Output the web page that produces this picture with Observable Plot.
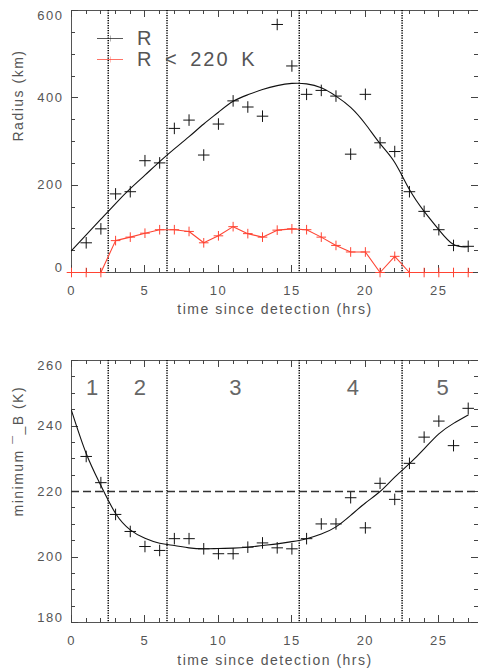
<!DOCTYPE html>
<html>
<head>
<meta charset="utf-8">
<script src="https://cdn.jsdelivr.net/npm/d3@7"></script>
<script src="https://cdn.jsdelivr.net/npm/@observablehq/plot@0.6"></script>
<style>
  html, body { margin: 0; padding: 0; background: #fff; }
  #chart { width: 478px; height: 668px; background: #fff; }
  #chart svg { display: block; }
</style>
</head>
<body>
<div id="chart"></div>
<script>
// ---------------- data ----------------
const hours = [0,1,2,3,4,5,6,7,8,9,10,11,12,13,14,15,16,17,18,19,20,21,22,23,24,25,26,27];

// top panel: measured radius (black crosses), hours 1..27
const radiusHours = [1,2,3,4,5,6,7,8,9,10,11,12,13,14,15,16,17,18,19,20,21,22,23,24,25,26,27];
const radiusValues = [68,100,180,185,256,251,330,349,269,340,393,379,358,568,473,408,417,404,271,408,297,277,185,140,98,62,60];

// top panel: fitted radius curve
const radiusFitHours = [0,1,2,3,4,5,6,7,8,9,10,11,12,13,14,15,16,17,18,19,20,21,22,23,24,25,26,27];
const radiusFitValues = [50,86,122,158,192,223,254,283,311,340,367,392,407,419,428,433,432,423,404,378,340,295,252,190,140,98,64,59];

// top panel: radius of region colder than 220 K (red)
const coldRadiusValues = [0,0,0,73,81,90,98,98,94,68,84,105,89,81,97,100,98,81,62,47,47,0,37,0,0,0,0,0];

// bottom panel: minimum brightness temperature (crosses), hours 1..27
const tbHours = [1,2,3,4,5,6,7,8,9,10,11,12,13,14,15,16,17,18,19,20,21,22,23,24,25,26,27];
const tbValues = [230.7,222.7,213,207.8,203.2,202,205.6,205.6,202.5,201,201,203,204.3,202.8,202.5,205.6,210.1,210.1,218.1,208.9,222.5,217.6,228.6,236.6,241.5,234,245.4];

// bottom panel: fitted curve
const tbFitHours = [0,1,2,3,4,5,6,7,8,9,10,11,12,13,14,15,16,17,18,19,20,21,22,23,24,25,26,27];
const tbFitValues = [244.7,231.6,221.8,213.3,208.3,205.7,204.2,203.5,202.8,202.5,202.6,202.7,203,203.5,204,204.7,205.6,207,209.2,212.7,216.5,220,224.4,228.5,233,237.6,240.8,243.4];

// phase boundaries (hrs), phase labels, threshold
const phaseBounds = [2.5, 6.5, 15.5, 22.5];
const phaseLabels = ["1","2","3","4","5"];
const threshold = [220];

// axis ticks
const xDomain = [0, 27.7];
const xMajor = [0,5,10,15,20,25];
const xMinor = d3.range(0, 28, 1).filter(d => d % 5 !== 0);
const yTopDomain = [0, 600];
const yTopMajor = [0,200,400,600];
const yTopMinor = d3.range(0, 601, 50).filter(d => d % 200 !== 0);
const yBotDomain = [180, 260];
const yBotMajor = [180,200,220,240,260];
const yBotMinor = d3.range(180, 261, 5).filter(d => d % 20 !== 0);

const legendItems = [
  {label: "R", color: "#222"},
  {label: "R < 220 K", color: "#ff4433"}
];

// --------------- helpers ---------------
const TXT = "#555";
const RED = "#ff4433";
const W = 478, ML = 71, MR = 0;

const radiusPts = radiusHours.map((t, i) => ({t, v: radiusValues[i]}));
const radiusFit = radiusFitHours.map((t, i) => ({t, v: radiusFitValues[i]}));
const coldPts = hours.map((t, i) => ({t, v: coldRadiusValues[i]}));
const tbPts = tbHours.map((t, i) => ({t, v: tbValues[i]}));
const tbFit = tbFitHours.map((t, i) => ({t, v: tbFitValues[i]}));

const bounds = [xDomain[0], ...phaseBounds, xDomain[1]];
const phases = phaseLabels.map((label, i) => ({label, t: (bounds[i] + bounds[i+1]) / 2}));

// inward ticks on all four sides, positioned through the scales
function innerTicks(yDom, majX, minX, majY, minY) {
  return (index, scales) => {
    const sx = scales.x, sy = scales.y;
    const left = sx(xDomain[0]), right = sx(xDomain[1]);
    const top = sy(yDom[1]), bottom = sy(yDom[0]);
    const path = [];
    for (const [arr, L] of [[majX, 7], [minX, 4]]) for (const d of arr) {
      const x = Math.round(sx(d)) + 0.5;
      path.push(`M${x},${bottom}v${-L}`, `M${x},${top}v${L}`);
    }
    for (const [arr, L] of [[majY, 7], [minY, 4]]) for (const d of arr) {
      const y = Math.round(sy(d)) + 0.5;
      path.push(`M${left},${y}h${L}`, `M${right},${y}h${-L}`);
    }
    const g = d3.create("svg:g");
    g.append("path").attr("d", path.join(""))
      .attr("stroke", "#444").attr("stroke-width", 1).attr("fill", "none");
    return g.node();
  };
}

function yLabels(majors) {
  const lo = majors[0], hi = majors[majors.length - 1];
  const common = {tickSize: 0, tickPadding: 8, label: null, fill: TXT, fontSize: 13, tickFormat: d => String(d)};
  return [
    Plot.axisY([hi], {...common, dy: 5}),
    Plot.axisY(majors.slice(1, -1), common),
    Plot.axisY([lo], {...common, dy: -5})
  ];
}

function legendMark(items) {
  return (index, scales, values, dims) => {
    const g = d3.create("svg:g").attr("text-anchor", "start");
    items.forEach((it, i) => {
      const y = dims.marginTop + 28 + i * 21;
      const x0 = dims.marginLeft + 26, x1 = dims.marginLeft + 52;
      g.append("line").attr("x1", x0).attr("x2", x1).attr("y1", y + 0.5).attr("y2", y + 0.5)
        .attr("stroke", it.color).attr("stroke-width", 1).attr("opacity", 0.75);
      g.append("line").attr("x1", (x0 + x1) / 2 + 0.5).attr("x2", (x0 + x1) / 2 + 0.5).attr("y1", y - 2.5).attr("y2", y + 3.5)
        .attr("stroke", it.color).attr("stroke-width", 1).attr("opacity", 0.35);
      g.append("text").attr("x", dims.marginLeft + 66).attr("y", y).attr("dy", "0.36em")
        .attr("fill", TXT).attr("font-size", 20).attr("letter-spacing", "2px").attr("word-spacing", "4px")
        .attr("text-anchor", "start")
        .text(it.label);
    });
    return g.node();
  };
}

const baseStyle = {fontFamily: "'Liberation Sans', Arial, sans-serif", fontSize: "13px", color: TXT, background: "#fff", letterSpacing: "1.5px"};

// --------------- top panel ---------------
const topH = 330, topMT = 10, topMB = 58;
const topPlot = Plot.plot({
  width: W, height: topH,
  marginLeft: ML, marginRight: MR, marginTop: topMT, marginBottom: topMB,
  style: baseStyle,
  x: {domain: xDomain},
  y: {domain: yTopDomain},
  marks: [
    Plot.frame({stroke: "#555"}),
    innerTicks(yTopDomain, xMajor, xMinor, yTopMajor, yTopMinor),
    Plot.axisX(xMajor, {tickSize: 0, tickPadding: 13, label: null, fill: TXT, fontSize: 13}),
    ...yLabels(yTopMajor),
    Plot.ruleX(phaseBounds, {x: d => d, stroke: "#000", strokeWidth: 1.5, strokeDasharray: "1.2,1.3"}),
    Plot.line(radiusFit, {x: "t", y: "v", curve: "natural", stroke: "#111", strokeWidth: 1.1}),
    Plot.dot(radiusPts, {x: "t", y: "v", symbol: "plus", r: 3.8, stroke: "#111", strokeWidth: 1}),
    Plot.line(coldPts, {x: "t", y: "v", stroke: RED, strokeWidth: 1.1}),
    Plot.dot(coldPts, {x: "t", y: "v", symbol: "plus", r: 3.2, stroke: RED, strokeWidth: 1}),
    Plot.text(["time since detection (hrs)"], {frameAnchor: "bottom", dy: 37, lineAnchor: "middle", fill: TXT, fontSize: 14}),
    Plot.text(["Radius (km)"], {frameAnchor: "left", dx: -53, rotate: -90, lineAnchor: "middle", fill: TXT, fontSize: 14}),
    legendMark(legendItems)
  ]
});

// --------------- bottom panel ---------------
const botH = 338, botMT = 30, botMB = 46;
const botPlot = Plot.plot({
  width: W, height: botH,
  marginLeft: ML, marginRight: MR, marginTop: botMT, marginBottom: botMB,
  style: baseStyle,
  x: {domain: xDomain},
  y: {domain: yBotDomain},
  marks: [
    Plot.frame({stroke: "#555"}),
    innerTicks(yBotDomain, xMajor, xMinor, yBotMajor, yBotMinor),
    Plot.axisX(xMajor, {tickSize: 0, tickPadding: 13, label: null, fill: TXT, fontSize: 13}),
    ...yLabels(yBotMajor),
    Plot.ruleX(phaseBounds, {x: d => d, stroke: "#000", strokeWidth: 1.5, strokeDasharray: "1.2,1.3"}),
    Plot.ruleY(threshold, {y: d => d, stroke: "#333", strokeWidth: 1.6, strokeDasharray: "8,4"}),
    Plot.line(tbFit, {x: "t", y: "v", curve: "natural", stroke: "#111", strokeWidth: 1.1}),
    Plot.dot(tbPts, {x: "t", y: "v", symbol: "plus", r: 3.8, stroke: "#111", strokeWidth: 1}),
    Plot.text(phases, {x: "t", text: "label", frameAnchor: "top", dy: 27, dx: 3, lineAnchor: "middle", fill: "#666", fontSize: 22, letterSpacing: "0px"}),
    Plot.text(["time since detection (hrs)"], {frameAnchor: "bottom", dy: 38, lineAnchor: "middle", fill: TXT, fontSize: 14}),
    Plot.text(["minimum ¯_B (K)"], {frameAnchor: "left", dx: -53, dy: 25, rotate: -90, lineAnchor: "middle", fill: TXT, fontSize: 14})
  ]
});

const chart = document.getElementById("chart");
chart.appendChild(topPlot);
chart.appendChild(botPlot);
</script>
</body>
</html>
